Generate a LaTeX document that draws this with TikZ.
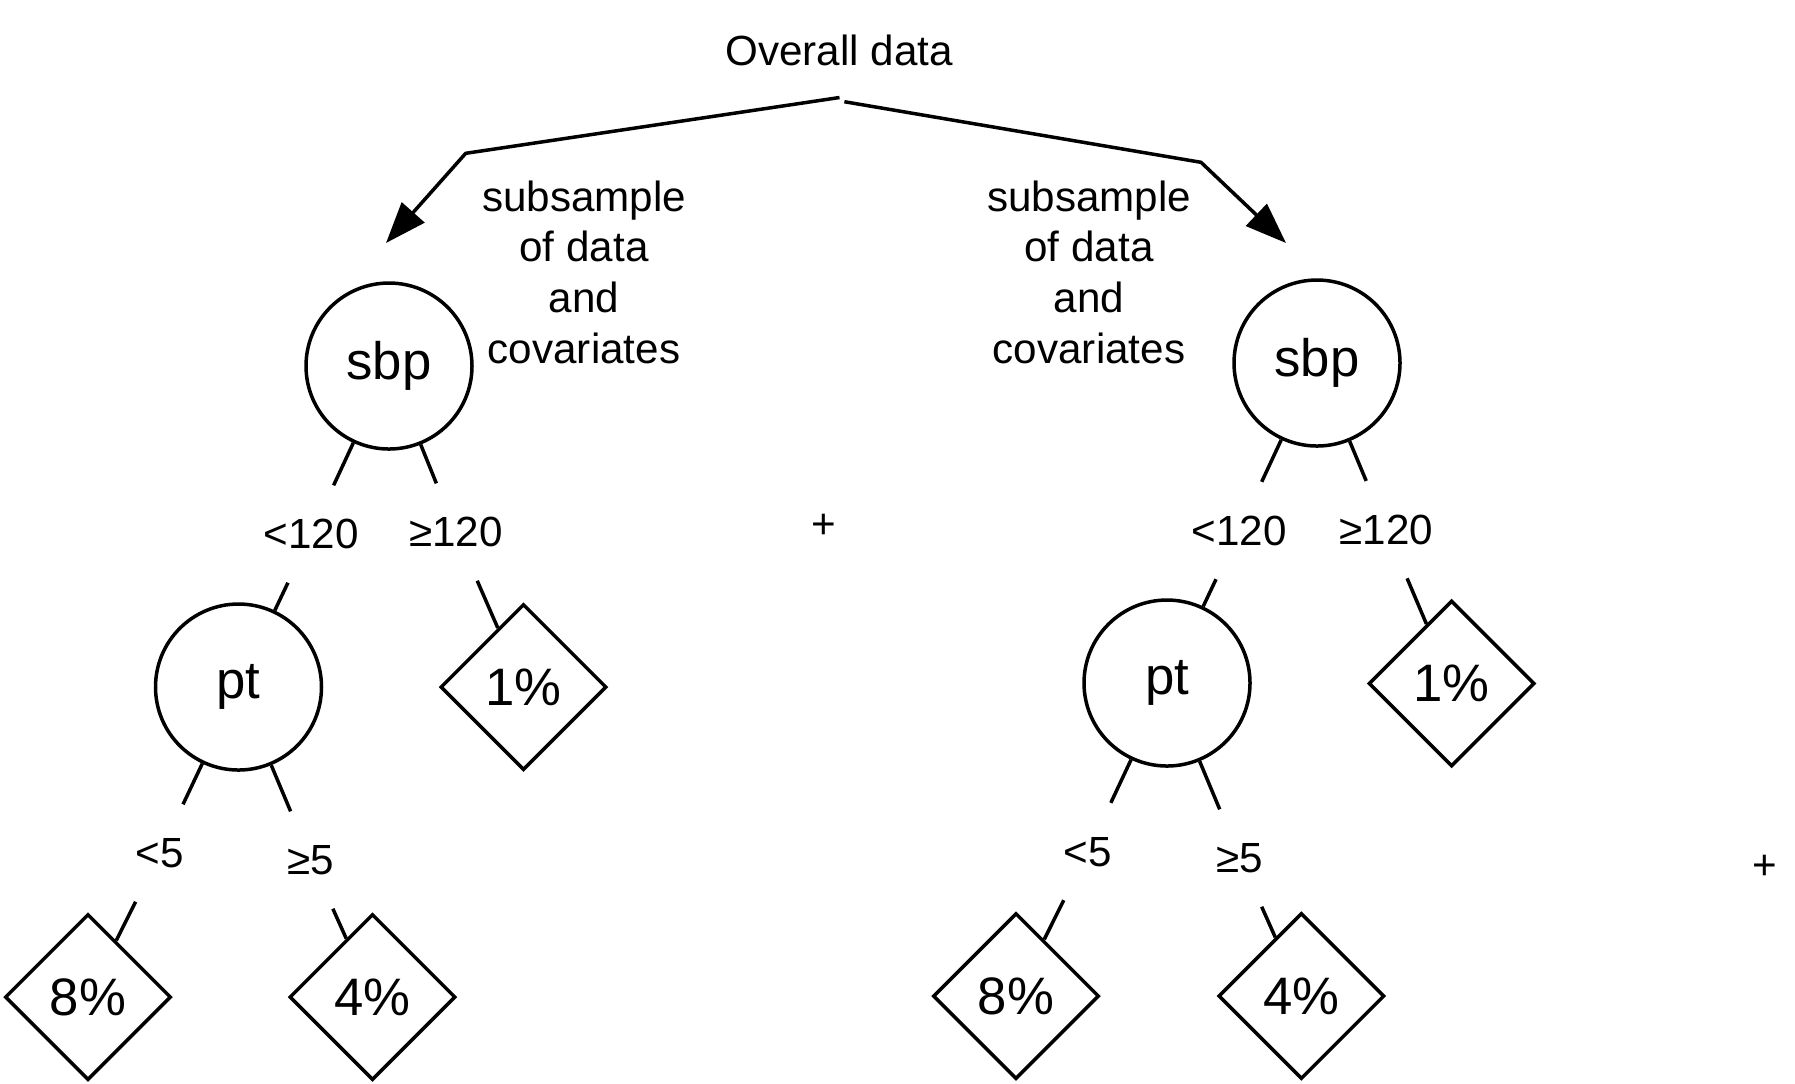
\documentclass[tikz,border=0pt]{standalone}
\usepackage{fontspec}
\setmainfont{Liberation Sans}
\usetikzlibrary{shapes.geometric,arrows.meta}
\begin{document}
\begin{tikzpicture}[x=0.1mm,y=-0.1mm,
  ln/.style={line width=0.35mm},
  smallfont/.style={font=\fontsize{12pt}{14pt}\selectfont},
  bigfont/.style={font=\fontsize{15pt}{18pt}\selectfont},
  split/.style={circle,draw,ln,minimum size=16.6mm,inner sep=0pt,bigfont},
  leaf/.style={diamond,draw,ln,aspect=1,minimum width=16.6mm,minimum height=16.6mm,inner sep=0pt,bigfont},
  cond/.style={rectangle,minimum height=9.6mm,inner xsep=2mm,inner ysep=0pt,text height=8.5pt,text depth=0pt,smallfont},
  txt/.style={inner sep=0pt,smallfont},
  conn/.style={ln},
  arr/.style={ln,line join=miter,-{Triangle[length=4.1mm,width=3mm]}}
]
\useasboundingbox (0,0) rectangle (1795,1083);

% top
\node[txt,anchor=base] (overall) at (839,65) {Overall data};
\coordinate (sL) at (839.5,97.5);
\coordinate (bL) at (465.7,153.3);
\coordinate (tL) at (386,243);
\coordinate (sR) at (844.4,101.7);
\coordinate (bR) at (1201,162.3);
\coordinate (tR) at (1286,243);
\draw[arr] (sL) -- (bL) -- (tL);
\draw[arr] (sR) -- (bR) -- (tR);

% subsample labels
\node[txt,anchor=base] (subL1) at (584,211) {subsample};
\node[txt,anchor=base] (subL2) at (584,261.5) {of data};
\node[txt,anchor=base] (subL3) at (584,312.5) {and};
\node[txt,anchor=base] (subL4) at (584,363) {covariates};
\node[txt,anchor=base] (subR1) at (1089,211) {subsample};
\node[txt,anchor=base] (subR2) at (1089,261.5) {of data};
\node[txt,anchor=base] (subR3) at (1089,312.5) {and};
\node[txt,anchor=base] (subR4) at (1089,363) {covariates};

% left tree
\node[split] (sbpL) at (389,366) {sbp};
\node[cond] (lt120L) at (311,534) {<120};
\node[cond] (ge120L) at (456,532) {≥120};
\node[split] (ptL) at (238.5,687) {pt};
\node[leaf] (oneL) at (523.5,687) {1\%};
\node[cond] (lt5L) at (160,853) {<5};
\node[cond] (ge5L) at (311,860) {≥5};
\node[leaf] (eightL) at (88,997) {8\%};
\node[leaf] (fourL) at (372.5,997) {4\%};

\draw[conn] (sbpL) -- (lt120L);
\draw[conn] (sbpL) -- (ge120L);
\draw[conn] (lt120L) -- (ptL);
\draw[conn] (ge120L) -- (oneL);
\draw[conn] (ptL) -- (lt5L);
\draw[conn] (ptL) -- (ge5L);
\draw[conn] (lt5L) -- (eightL);
\draw[conn] (ge5L) -- (fourL);

% right tree
\node[split] (sbpR) at (1317,363) {sbp};
\node[cond] (lt120R) at (1239,530.5) {<120};
\node[cond] (ge120R) at (1386.5,529.6) {≥120};
\node[split] (ptR) at (1167,683) {pt};
\node[leaf] (oneR) at (1451.6,683.5) {1\%};
\node[cond] (lt5R) at (1088,851.5) {<5};
\node[cond] (ge5R) at (1240,858) {≥5};
\node[leaf] (eightR) at (1016,996) {8\%};
\node[leaf] (fourR) at (1301.4,996) {4\%};

\draw[conn] (sbpR) -- (lt120R);
\draw[conn] (sbpR) -- (ge120R);
\draw[conn] (lt120R) -- (ptR);
\draw[conn] (ge120R) -- (oneR);
\draw[conn] (ptR) -- (lt5R);
\draw[conn] (ptR) -- (ge5R);
\draw[conn] (lt5R) -- (eightR);
\draw[conn] (ge5R) -- (fourR);

% plus signs
\node[txt] (plus1) at (824,526) {+};
\node[txt] (plus2) at (1765,867) {+};
\end{tikzpicture}
\end{document}
